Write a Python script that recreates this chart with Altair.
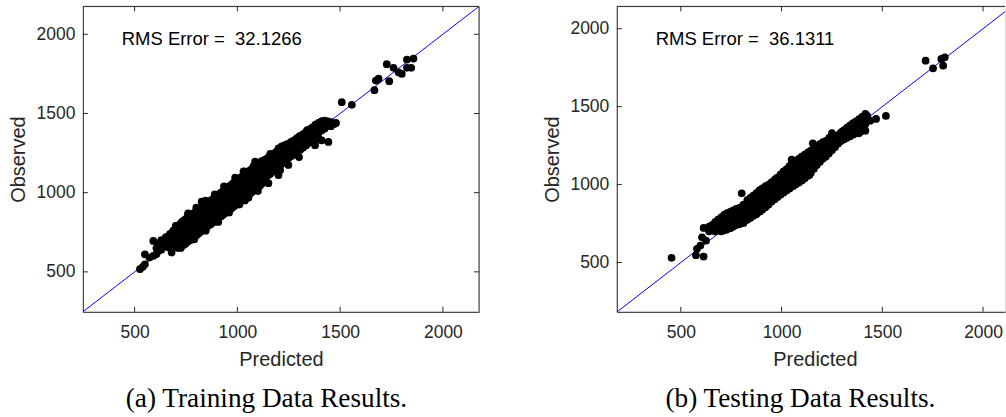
import altair as alt
import pandas as pd

# Observed vs. predicted values, grouped by predicted value: {predicted: [observed, ...]}
train_rows = {
    526: [517], 540: [532], 550: [548, 611], 572: [590], 591: [601, 695],
    606: [612, 650], 615: [632, 680], 630: [640, 700], 645: [690, 660], 652: [720],
    664: [700, 655], 672: [740], 680: [622, 712], 688: [760, 675],
    700: [730, 660, 790], 710: [770, 700, 650], 720: [760, 800, 715, 680],
    725: [650], 730: [770, 815, 725, 690], 740: [780, 825, 735, 700, 670],
    750: [790, 835, 745, 710, 680], 760: [800, 845, 755, 720, 692, 870],
    761: [860],
    770: [810, 855, 765, 730, 700], 780: [820, 862, 775, 740, 712],
    790: [830, 872, 785, 750, 720, 705], 800: [840, 880, 795, 760, 730, 905],
    810: [852, 890, 805, 770, 740], 820: [860, 900, 815, 780, 752],
    826: [943],
    830: [870, 910, 825, 790, 762], 840: [880, 920, 835, 800, 770],
    845: [950], 846: [760],
    850: [890, 930, 845, 810, 780], 860: [900, 940, 855, 820, 792],
    870: [910, 950, 865, 830, 800], 880: [920, 960, 875, 840, 810],
    890: [930, 970, 885, 850, 820, 990], 900: [940, 980, 895, 860, 830],
    907: [815],
    910: [950, 990, 905, 870, 842], 920: [960, 1000, 915, 880, 850],
    930: [970, 1010, 925, 890, 860], 935: [1040], 940: [980, 1020, 935, 900, 870],
    950: [990, 1030, 945, 910, 880], 960: [1000, 1040, 955, 920, 890, 875],
    970: [1010, 1050, 965, 930, 900], 980: [1020, 1060, 975, 940, 910],
    989: [1095],
    990: [1030, 1070, 985, 950, 920], 1000: [1040, 1080, 995, 960, 932],
    1010: [1050, 1090, 1005, 970, 940, 925], 1020: [1060, 1100, 1015, 980, 952],
    1030: [1070, 1110, 1025, 990, 962, 1135], 1037: [951, 1133],
    1040: [1080, 1120, 1035, 1000, 972],
    1050: [1090, 1130, 1045, 1010, 982], 1054: [968], 1060: [1100, 1140, 1055, 1020, 992],
    1070: [1110, 1150, 1065, 1030, 1002], 1080: [1120, 1158, 1075, 1040, 1012, 1170],
    1086: [1196],
    1090: [1130, 1165, 1085, 1050, 1025], 1100: [1138, 1172, 1095, 1060, 1035, 1010],
    1110: [1148, 1185, 1105, 1070, 1045], 1118: [1200],
    1120: [1158, 1195, 1115, 1080, 1058],
    1130: [1166, 1205, 1125, 1090], 1140: [1176, 1212, 1135, 1100],
    1150: [1186, 1222, 1145, 1110], 1151: [1060], 1160: [1196, 1230, 1155, 1120, 1245],
    1170: [1205, 1238, 1165, 1132], 1180: [1215, 1248, 1175, 1142],
    1190: [1225, 1258, 1185, 1152], 1200: [1235, 1268, 1195, 1165, 1110, 1280],
    1208: [1141],
    1210: [1245, 1278, 1205, 1175], 1216: [1292], 1220: [1255, 1290, 1215, 1185],
    1230: [1265, 1298, 1225, 1195], 1240: [1275, 1305, 1235, 1210],
    1248: [1175],
    1250: [1282, 1310, 1245, 1220], 1262: [1292, 1320, 1255, 1230],
    1275: [1305, 1330, 1268, 1240], 1290: [1320, 1345, 1280, 1255],
    1300: [1352, 1225],
    1305: [1335, 1358, 1295, 1270], 1320: [1350, 1370, 1310, 1285],
    1330: [1298],
    1335: [1365, 1385, 1325, 1300], 1340: [1395],
    1350: [1378, 1400, 1340, 1315],
    1365: [1392, 1412, 1352, 1330], 1378: [1300], 1380: [1405, 1430, 1365, 1335],
    1395: [1420, 1440, 1380, 1345], 1410: [1432, 1450, 1392, 1330],
    1411: [1450],
    1425: [1445, 1455, 1405], 1440: [1450, 1425], 1443: [1320], 1455: [1445, 1420],
    1470: [1432], 1480: [1440],
    1508: [1571], 1557: [1555], 1667: [1647], 1674: [1708], 1687: [1720],
    1727: [1811], 1739: [1704], 1760: [1788], 1784: [1760], 1800: [1750],
    1825: [1788, 1840], 1846: [1788], 1857: [1847],
}

test_rows = {
    454: [530], 575: [547], 580: [588], 597: [609], 605: [662], 613: [538, 722],
    625: [640], 640: [700, 730], 655: [705, 740, 720], 670: [700, 740, 760],
    685: [705, 740, 775], 700: [700, 735, 770, 790], 715: [705, 740, 775, 805],
    728: [815, 712],
    730: [715, 750, 785, 815], 745: [720, 755, 790, 825], 760: [730, 765, 800, 835],
    775: [740, 775, 810, 845], 790: [745, 780, 815, 850], 802: [944, 760, 795, 830],
    810: [870, 752],
    815: [765, 800, 835, 870], 830: [775, 810, 845, 880, 900],
    845: [785, 820, 855, 890, 915], 860: [800, 835, 870, 905, 930],
    875: [810, 845, 880, 915, 945], 890: [825, 860, 895, 930, 962],
    892: [965, 827],
    905: [840, 875, 910, 945, 975], 920: [855, 890, 925, 960, 990],
    935: [870, 905, 940, 975, 1000], 950: [890, 925, 960, 995, 1015],
    965: [905, 940, 975, 1010, 1030], 974: [1040, 923], 980: [920, 955, 990, 1025, 1045],
    995: [935, 970, 1005, 1040, 1065], 1010: [950, 985, 1020, 1055, 1085],
    1025: [962, 1000, 1035, 1070, 1100], 1040: [975, 1015, 1050, 1085, 1120],
    1050: [1160], 1055: [990, 1030, 1065, 1100, 1140], 1056: [1145, 990],
    1070: [1000, 1040, 1080, 1115, 1150],
    1085: [1012, 1055, 1095, 1130, 1165], 1100: [1025, 1065, 1105, 1145, 1180],
    1115: [1040, 1080, 1120, 1160, 1192], 1130: [1055, 1095, 1135, 1175, 1205],
    1138: [1210, 1062],
    1145: [1075, 1110, 1150, 1190, 1218], 1155: [1265],
    1160: [1100, 1130, 1165, 1205, 1230],
    1175: [1125, 1150, 1180, 1215, 1245], 1190: [1145, 1170, 1200, 1230, 1260],
    1205: [1165, 1190, 1220, 1250, 1272], 1220: [1180, 1205, 1235, 1262, 1280],
    1235: [1200, 1225, 1250, 1275], 1236: [1300], 1250: [1220, 1245, 1268, 1290, 1330],
    1265: [1240, 1260, 1285, 1305], 1280: [1262, 1280, 1300, 1318],
    1295: [1280, 1298, 1315, 1335], 1302: [1340, 1287], 1310: [1290, 1312, 1330, 1350],
    1325: [1300, 1325, 1345, 1365], 1340: [1310, 1340, 1360, 1380],
    1355: [1320, 1350, 1375, 1395], 1370: [1330, 1360, 1390, 1405],
    1384: [1415, 1329],
    1385: [1335, 1375, 1400, 1420], 1400: [1345, 1390, 1415, 1435],
    1416: [1346, 1389, 1453], 1425: [1425, 1440], 1440: [1410], 1469: [1421],
    1518: [1440],
    1715: [1795], 1752: [1746], 1793: [1806], 1802: [1763], 1810: [1816],
}

train_rms = "RMS Error = \u00a032.1266"
test_rms = "RMS Error = \u00a036.1311"
captions = ["(a) Training Data Results.", "(b) Testing Data Results."]
tick_values = [500, 1000, 1500, 2000]

train_x_domain = [248, 2176]
train_y_domain = [248, 2176]
test_x_domain = [182, 2109]
test_y_domain = [184, 2143]

AX = "#262626"
SANS = "Liberation Sans"
SERIF = "Liberation Serif"
H = 306


def to_frame(rows):
    pts = [(p, o) for p, obs in rows.items() for o in obs]
    return pd.DataFrame(pts, columns=["Predicted", "Observed"])


def panel(rows, xdom, ydom, rms, caption, width, title_center, right_side):
    xs = alt.Scale(domain=xdom, nice=False, zero=False)
    ys = alt.Scale(domain=ydom, nice=False, zero=False)
    common = dict(
        values=tick_values, format="d", ticks=False, tickSize=0, grid=False,
        domainColor=AX, domainWidth=1, labelColor=AX, labelFont=SANS,
        labelFontSize=17.5, labelFlush=False, titleFont=SANS, titleFontSize=20,
        titleFontWeight="normal", titleColor=AX,
    )
    x_axis = alt.Axis(
        labelPadding=12, title="Predicted", titleY=54,
        titleX=title_center, titleBaseline="alphabetic", **common,
    )
    y_axis = alt.Axis(
        labelPadding=8, title="Observed", titleAngle=-90,
        titleX=-64, titleY=H / 2, titleBaseline="middle", titleAlign="center", **common,
    )

    # identity line y = x, clipped to the plot area
    lo = min(xdom[0], ydom[0])
    hi = max(xdom[1], ydom[1])
    diag = alt.Chart(pd.DataFrame({"Predicted": [lo, hi], "Observed": [lo, hi]})).mark_line(
        color="#0000ff", strokeWidth=1, clip=True
    ).encode(
        x=alt.X("Predicted:Q", scale=xs, axis=x_axis),
        y=alt.Y("Observed:Q", scale=ys, axis=y_axis),
    )

    pts = alt.Chart(to_frame(rows)).mark_circle(size=60, color="black", opacity=1).encode(
        x=alt.X("Predicted:Q", scale=xs, axis=x_axis),
        y=alt.Y("Observed:Q", scale=ys, axis=y_axis),
    )

    # inward-pointing ticks on every side of the box
    ticks = pd.DataFrame({"Predicted": tick_values, "Observed": tick_values})
    tick_style = dict(color=AX, strokeWidth=1)
    bottom_ticks = alt.Chart(ticks).mark_rule(**tick_style).encode(
        x=alt.X("Predicted:Q", scale=xs, axis=x_axis), y=alt.value(H), y2=alt.value(H - 5)
    )
    top_ticks = alt.Chart(ticks).mark_rule(**tick_style).encode(
        x=alt.X("Predicted:Q", scale=xs, axis=x_axis), y=alt.value(0), y2=alt.value(5)
    )
    left_ticks = alt.Chart(ticks).mark_rule(**tick_style).encode(
        y=alt.Y("Observed:Q", scale=ys, axis=y_axis), x=alt.value(0), x2=alt.value(5)
    )
    top_frame = alt.Chart(ticks.head(1)).mark_rule(**tick_style).encode(
        x=alt.value(0), x2=alt.value(width), y=alt.value(0)
    )
    layers = [diag, pts, bottom_ticks, top_ticks, left_ticks, top_frame]
    if right_side:
        right_ticks = alt.Chart(ticks).mark_rule(**tick_style).encode(
            y=alt.Y("Observed:Q", scale=ys, axis=y_axis), x=alt.value(width - 5), x2=alt.value(width)
        )
        right_frame = alt.Chart(ticks.head(1)).mark_rule(**tick_style).encode(
            x=alt.value(width), y=alt.value(0), y2=alt.value(H)
        )
        layers += [right_ticks, right_frame]

    rms_text = alt.Chart(pd.DataFrame({"label": [rms]})).mark_text(
        align="left", baseline="alphabetic", font=SANS, fontSize=18.5, color="black"
    ).encode(text="label:N", x=alt.value(39), y=alt.value(38.5))
    cap_text = alt.Chart(pd.DataFrame({"label": [caption]})).mark_text(
        align="center", baseline="alphabetic", font=SERIF, fontSize=27.3, color="black"
    ).encode(text="label:N", x=alt.value(184), y=alt.value(401))
    layers += [rms_text, cap_text]

    return alt.layer(*layers).properties(width=width, height=H)


train_panel = panel(train_rows, train_x_domain, train_y_domain, train_rms, captions[0], 397, 198.5, True)
test_panel = panel(test_rows, test_x_domain, test_y_domain, test_rms, captions[1], 389, 198.5, False)

chart = alt.hconcat(train_panel, test_panel, spacing=138, bounds="flush").properties(
    padding={"left": 8, "top": 5, "right": 0, "bottom": 0}
).configure_view(stroke=None).configure(background="white")

chart.save("out.html", embed_options={"renderer": "svg", "actions": False})
